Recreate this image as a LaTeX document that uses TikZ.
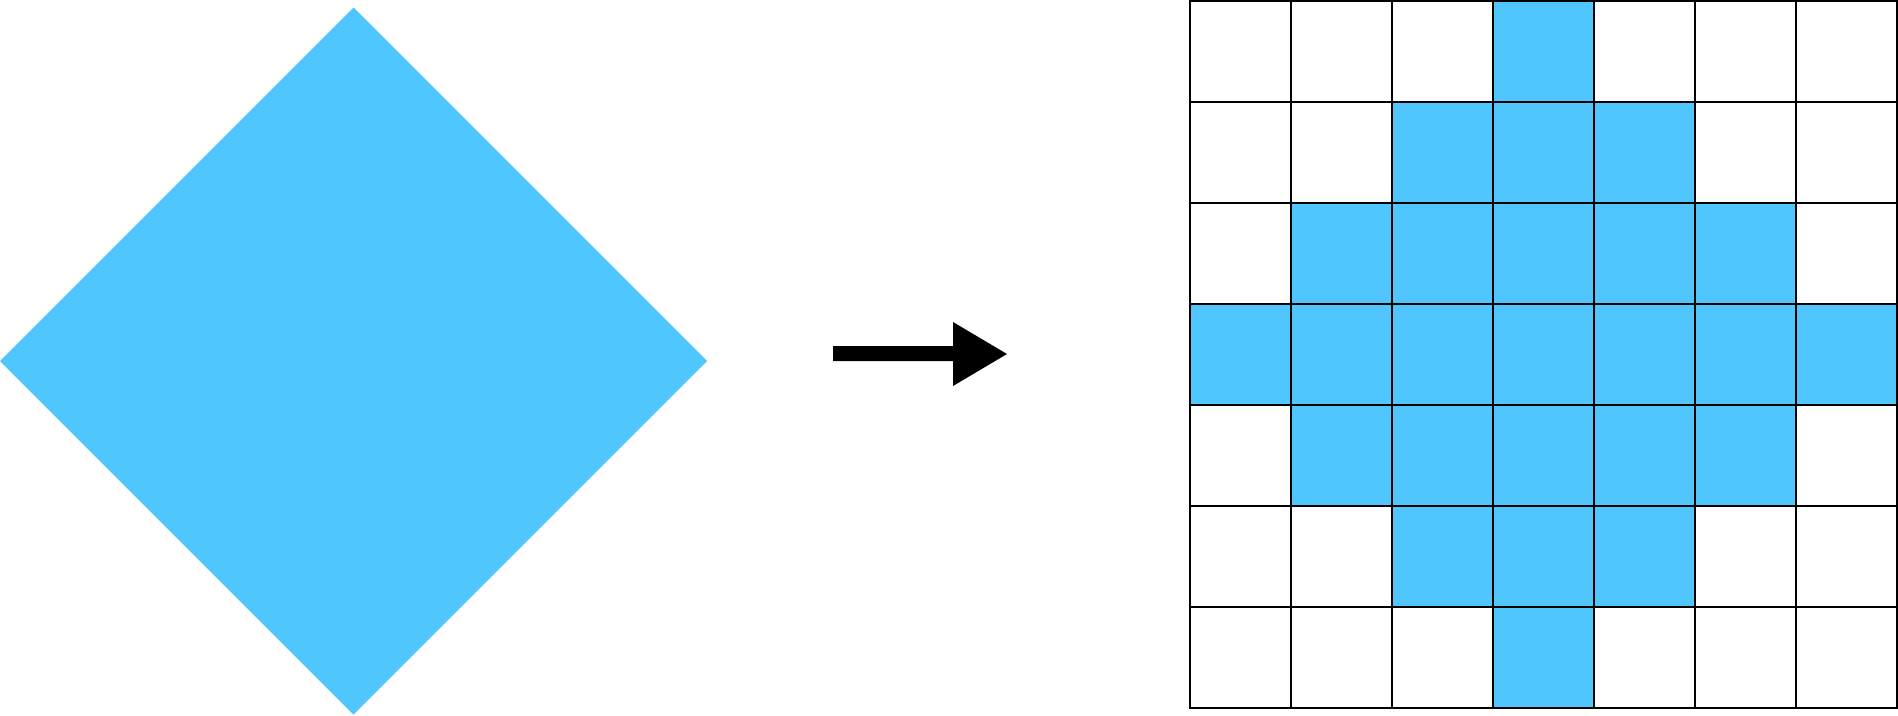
\documentclass[tikz,border=0pt]{standalone}
\definecolor{cellblue}{RGB}{80,198,255}
\tikzset{gridline/.style={draw=black,line width=1.1pt,line cap=rect}}
\begin{document}
\begin{tikzpicture}[x=1pt,y=-1pt]
\useasboundingbox (0,0) rectangle (1898,715);
% diamond
\fill[cellblue] (0,361) -- (353.5,7.5) -- (707,361) -- (353.5,714.5) -- cycle;
% block arrow
\fill[black] (833,346) -- (953,346) -- (953,322) -- (1007,354) -- (953,386) -- (953,361) -- (833,361) -- cycle;
% filled cells
\foreach \r in {0,...,6}{
  \foreach \c in {0,...,6}{
    \pgfmathtruncatemacro{\d}{abs(\r-3)+abs(\c-3)}
    \ifnum\d<4
      \fill[cellblue] ({1190+101*\c},{1+101*\r}) rectangle ++(101,101);
    \fi
  }
}
% grid lines
\foreach \i in {0,...,7}{
  \draw[gridline] ({1190+101*\i},1) -- ({1190+101*\i},708);
  \draw[gridline] (1190,{1+101*\i}) -- (1897,{1+101*\i});
}
\end{tikzpicture}
\end{document}
